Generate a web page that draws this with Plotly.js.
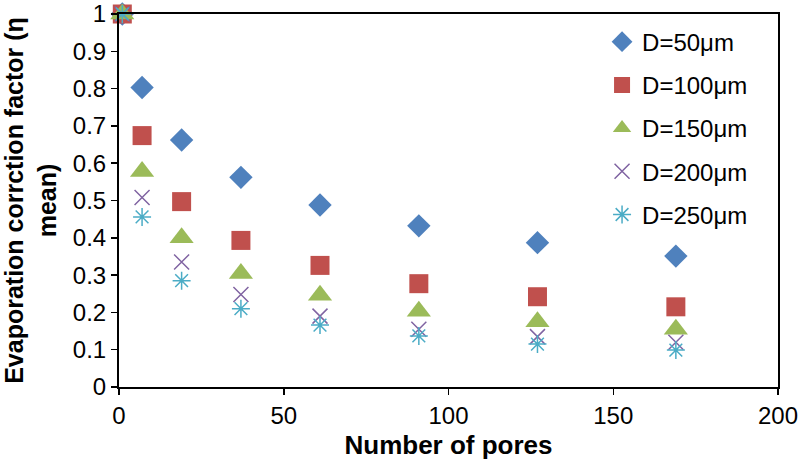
<!DOCTYPE html>
<html><head><meta charset="utf-8">
<script src="https://cdn.plot.ly/plotly-3.0.1.min.js"></script>
<style>body{margin:0;background:#fff}#c{width:799px;height:465px}</style>
</head><body><div id="c"></div>
<script>
const pores = [1, 7, 19, 37, 61, 91, 127, 169];
const d50 = [1, 0.803, 0.662, 0.562, 0.488, 0.432, 0.387, 0.351];
const d100 = [1, 0.674, 0.497, 0.393, 0.326, 0.277, 0.242, 0.215];
const d150 = [1, 0.578, 0.400, 0.304, 0.246, 0.203, 0.175, 0.155];
const d200 = [1, 0.508, 0.335, 0.248, 0.190, 0.155, 0.135, 0.120];
const d250 = [1, 0.456, 0.285, 0.210, 0.166, 0.137, 0.115, 0.099];
const names = ["D=50μm", "D=100μm", "D=150μm", "D=200μm", "D=250μm"];
const series = [d50, d100, d150, d200, d250];
const colors = ["#4F81BD", "#C0504D", "#9BBB59", "#8064A2", "#4BACC6"];
const symbols = ["diamond", "square", "triangle-up", "x-thin-open", "asterisk-open"];
const sizes = [18, 19, 21, 15, 15];

const traces = series.map((s, i) => ({
  x: pores, y: s, name: names[i], type: "scatter", mode: "markers",
  legendgroup: "g" + i, cliponaxis: false,
  marker: {symbol: symbols[i], color: colors[i], size: sizes[i],
           line: {color: colors[i], width: (i >= 3 ? 1.5 : 0)}}
}));

const font = "Liberation Sans, Arial, sans-serif";
const axCommon = {showgrid: false, zeroline: false, showline: true, linecolor: "#000",
  linewidth: 2, tickcolor: "#000", tickwidth: 1.5};

const layout = {
  width: 799, height: 465,
  margin: {l: 119, r: 21, t: 14, b: 78},
  paper_bgcolor: "#fff", plot_bgcolor: "#fff",
  font: {family: font, color: "#000"},
  showlegend: true,
  legend: {x: 0.733, y: 0.985, xanchor: "left", yanchor: "top",
           font: {size: 24, family: font},
           traceorder: "grouped", tracegroupgap: 9,
           bgcolor: "rgba(0,0,0,0)"},
  xaxis: Object.assign({}, axCommon, {range: [0, 200], dtick: 50, mirror: true,
          ticks: "outside", ticklen: 6, tickfont: {size: 24},
          title: {text: "<b>Number of pores</b>", font: {size: 26}, standoff: 8}}),
  yaxis: Object.assign({}, axCommon, {range: [0, 1], dtick: 0.1, mirror: true,
          ticks: "outside", ticklen: 6, tickfont: {size: 24},
          title: {text: "<b>Evaporation corrction factor (η<br>mean)</b>", font: {size: 25}, standoff: 10}}),
  xaxis2: Object.assign({}, axCommon, {range: [0, 200], dtick: 50, overlaying: "x",
          side: "bottom", ticks: "inside", ticklen: 5, showticklabels: false}),
  yaxis2: Object.assign({}, axCommon, {range: [0, 1], dtick: 0.1, overlaying: "y",
          side: "left", ticks: "inside", ticklen: 5, showticklabels: false})
};
Plotly.newPlot("c", traces, layout, {displayModeBar: false, staticPlot: true});
</script></body></html>
